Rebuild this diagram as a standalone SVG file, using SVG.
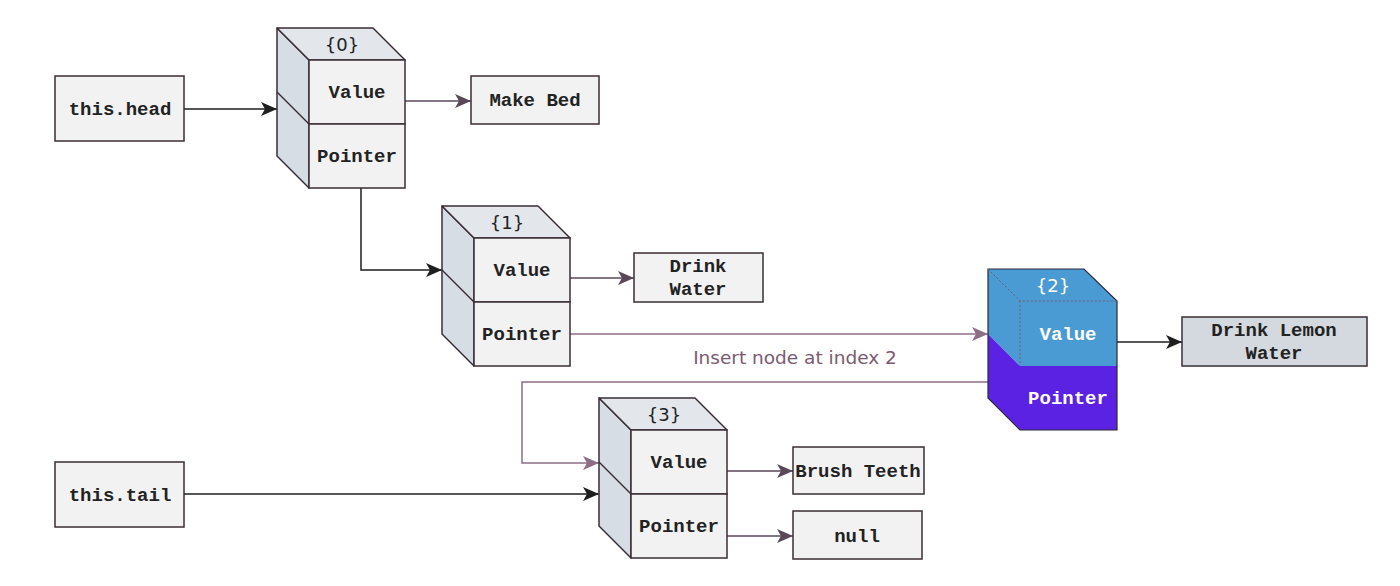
<svg xmlns="http://www.w3.org/2000/svg" width="1400" height="586" viewBox="0 0 1400 586">
<style>
.box{fill:#f2f2f2;stroke:#3a2e36;stroke-width:1.5}
.side{fill:#d6dde5;stroke:#3a2e36;stroke-width:1.5;stroke-linejoin:round}
.top{fill:#e3e7eb;stroke:#3a2e36;stroke-width:1.5;stroke-linejoin:round}
.front{fill:#f2f2f2;stroke:#3a2e36;stroke-width:1.5}
.mono{font-family:"Liberation Mono","Courier New",monospace;font-weight:bold;font-size:19px;fill:#222;text-anchor:middle}
.idx{font-family:"Comic Sans MS","DejaVu Sans",sans-serif;font-size:18px;fill:#222;text-anchor:middle}
.c-black{fill:none;stroke:#1e1e1e;stroke-width:1.5}
.c-dark{fill:none;stroke:#5a4858;stroke-width:1.5}
.c-light{fill:none;stroke:#8c6f86;stroke-width:1.5}
</style>
<defs>
<marker id="aBlack" markerUnits="userSpaceOnUse" markerWidth="18" markerHeight="16" refX="16" refY="7" orient="auto"><path d="M0,0 L16,7 L0,14 L4,7 Z" fill="#1e1e1e"/></marker>
<marker id="aDark" markerUnits="userSpaceOnUse" markerWidth="18" markerHeight="16" refX="16" refY="7" orient="auto"><path d="M0,0 L16,7 L0,14 L4,7 Z" fill="#5a4858"/></marker>
<marker id="aLight" markerUnits="userSpaceOnUse" markerWidth="18" markerHeight="16" refX="16" refY="7" orient="auto"><path d="M0,0 L16,7 L0,14 L4,7 Z" fill="#8c6f86"/></marker>
</defs>
<rect width="1400" height="586" fill="#ffffff"/>

<g id="connectors">
<path class="c-black" d="M184,109 L277,109" marker-end="url(#aBlack)"/>
<path class="c-dark" d="M405,101 L471,101" marker-end="url(#aDark)"/>
<path class="c-black" d="M361,188 L361,270 L442,270" marker-end="url(#aBlack)"/>
<path class="c-dark" d="M570,278 L634,278" marker-end="url(#aDark)"/>
<path class="c-light" d="M570,334 L988,334" marker-end="url(#aLight)"/>
<path class="c-black" d="M1117,342 L1182,342" marker-end="url(#aBlack)"/>
<path class="c-light" d="M988,382 L522,382 L522,463 L599,463" marker-end="url(#aLight)"/>
<path class="c-black" d="M184,494 L599,494" marker-end="url(#aBlack)"/>
<path class="c-dark" d="M727,471 L793,471" marker-end="url(#aDark)"/>
<path class="c-dark" d="M727,536 L793,536" marker-end="url(#aDark)"/>
<text x="795" y="364" font-family="'Comic Sans MS','DejaVu Sans',sans-serif" font-size="18.5" fill="#7a5a72" text-anchor="middle">Insert node at index 2</text>
</g>

<g id="this-head"><rect class="box" x="55" y="76" width="129" height="65"/><text class="mono" x="120" y="115">this.head</text></g>
<g id="this-tail"><rect class="box" x="55" y="462" width="129" height="65"/><text class="mono" x="120" y="501">this.tail</text></g>

<g id="node0">
<polygon class="side" points="277,28 309,60 309,188 277,156"/>
<polygon class="top" points="277,28 373,28 405,60 309,60"/>
<rect class="front" x="309" y="60" width="96" height="64"/>
<rect class="front" x="309" y="124" width="96" height="64"/>
<line x1="277" y1="92" x2="309" y2="124" stroke="#3a2e36" stroke-width="1.5"/>
<text class="idx" x="342" y="51">{0}</text>
<text class="mono" x="357" y="98">Value</text>
<text class="mono" x="357" y="162">Pointer</text>
</g>

<g id="node1">
<polygon class="side" points="442,206 474,238 474,366 442,334"/>
<polygon class="top" points="442,206 538,206 570,238 474,238"/>
<rect class="front" x="474" y="238" width="96" height="64"/>
<rect class="front" x="474" y="302" width="96" height="64"/>
<line x1="442" y1="270" x2="474" y2="302" stroke="#3a2e36" stroke-width="1.5"/>
<text class="idx" x="507" y="229">{1}</text>
<text class="mono" x="522" y="276">Value</text>
<text class="mono" x="522" y="340">Pointer</text>
</g>

<g id="node2">
<polygon points="988,269 1084,269 1117,301 1117,366 1020,366 988,334" fill="#4a9ad3"/>
<polygon points="988,334 1020,366 1117,366 1117,430 1020,430 988,398" fill="#5b22e3"/>
<polygon points="988,269 1084,269 1117,301 1117,430 1020,430 988,398" fill="none" stroke="#2a2a3a" stroke-width="1.2"/>
<path d="M988,269 L1020,301 L1117,301 M1020,301 L1020,366" fill="none" stroke="#7a5a6a" stroke-width="1" stroke-dasharray="2,2"/>
<text class="idx" x="1053" y="292" style="fill:#ffffff">{2}</text>
<text class="mono" x="1068" y="340" style="fill:#ffffff">Value</text>
<text class="mono" x="1068" y="404" style="fill:#ffffff">Pointer</text>
</g>

<g id="node3">
<polygon class="side" points="599,398 631,430 631,558 599,526"/>
<polygon class="top" points="599,398 695,398 727,430 631,430"/>
<rect class="front" x="631" y="430" width="96" height="64"/>
<rect class="front" x="631" y="494" width="96" height="64"/>
<line x1="599" y1="462" x2="631" y2="494" stroke="#3a2e36" stroke-width="1.5"/>
<text class="idx" x="664" y="421">{3}</text>
<text class="mono" x="679" y="468">Value</text>
<text class="mono" x="679" y="532">Pointer</text>
</g>

<g id="make-bed"><rect class="box" x="471" y="76" width="128" height="48"/><text class="mono" x="535" y="106">Make Bed</text></g>
<g id="drink-water"><rect class="box" x="634" y="253" width="129" height="49"/><text class="mono" x="698" y="272">Drink</text><text class="mono" x="698" y="295">Water</text></g>
<g id="drink-lemon-water"><rect class="box" x="1182" y="317" width="185" height="49" style="fill:#d4d9df"/><text class="mono" x="1274" y="336">Drink Lemon</text><text class="mono" x="1274" y="359">Water</text></g>
<g id="brush-teeth"><rect class="box" x="793" y="447" width="131" height="47"/><text class="mono" x="858" y="477">Brush Teeth</text></g>
<g id="null"><rect class="box" x="793" y="511" width="129" height="48"/><text class="mono" x="857" y="542">null</text></g>
</svg>
